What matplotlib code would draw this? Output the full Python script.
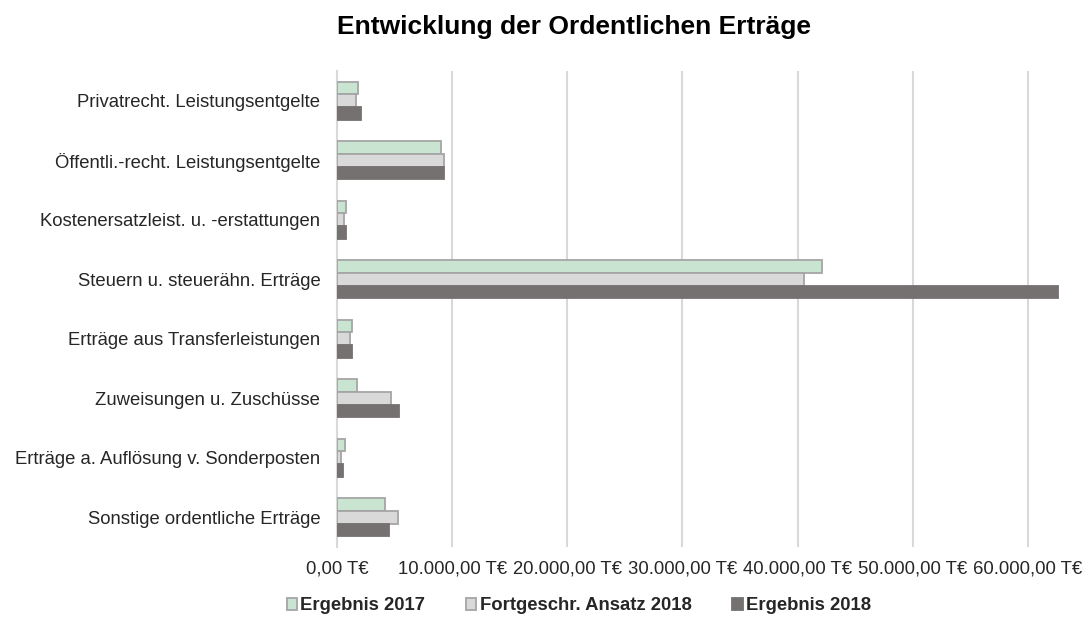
import matplotlib
matplotlib.use("Agg")
import matplotlib.pyplot as plt
import numpy as np
from matplotlib.ticker import FuncFormatter, MultipleLocator

plt.rcParams['font.family'] = ['Liberation Sans', 'DejaVu Sans']

categories = [
    "Privatrecht. Leistungsentgelte",
    "Öffentli.-recht. Leistungsentgelte",
    "Kostenersatzleist. u. -erstattungen",
    "Steuern u. steuerähn. Erträge",
    "Erträge aus Transferleistungen",
    "Zuweisungen u. Zuschüsse",
    "Erträge a. Auflösung v. Sonderposten",
    "Sonstige ordentliche Erträge",
]
ergebnis_2017 = [1790, 9050, 810, 42150, 1330, 1760, 660, 4190]
ansatz_2018 = [1670, 9280, 630, 40560, 1150, 4710, 370, 5340]
ergebnis_2018 = [2080, 9310, 750, 62650, 1330, 5400, 490, 4480]
series_names = ["Ergebnis 2017", "Fortgeschr. Ansatz 2018", "Ergebnis 2018"]

W, H = 1087, 623
fig = plt.figure(figsize=(W / 100, H / 100), dpi=100)
ax = fig.add_axes([337 / W, 1 - 547 / H, (1059 - 337) / W, (547 - 71) / H])

y = np.arange(len(categories))
h = 0.213
ax.barh(y - h, ergebnis_2017, height=h, color="#C9E5D2", edgecolor="#A5A5A5", linewidth=1.3,
        label=series_names[0], zorder=3)
ax.barh(y, ansatz_2018, height=h, color="#D9D9D9", edgecolor="#A5A5A5", linewidth=1.3,
        label=series_names[1], zorder=3)
ax.barh(y + h, ergebnis_2018, height=h, color="#767171", edgecolor="#767171", linewidth=1.3,
        label=series_names[2], zorder=3)

ax.set_ylim(len(categories) - 0.5, -0.5)
ax.set_xlim(0, 62700)
ax.set_yticks(y)
ax.set_yticklabels(categories, fontsize=13.3, color="#262626")


def fmt(v, pos):
    s = f"{v:,.2f}".replace(",", "X").replace(".", ",").replace("X", ".")
    return s + " T€"


ax.xaxis.set_major_locator(MultipleLocator(10000))
ax.xaxis.set_major_formatter(FuncFormatter(fmt))
for lbl in ax.get_xticklabels():
    lbl.set_fontsize(13.3)
    lbl.set_color("#262626")
ax.tick_params(axis='both', length=0)
ax.tick_params(axis='x', pad=10)
ax.tick_params(axis='y', pad=12)
ax.grid(axis='x', color="#D9D9D9", linewidth=1.5, zorder=0)
for s in ["top", "right", "bottom"]:
    ax.spines[s].set_visible(False)
ax.spines["left"].set_color("#D9D9D9")
ax.spines["left"].set_linewidth(1.5)

fig.text(574 / W, 1 - 27 / H, "Entwicklung der Ordentlichen Erträge", ha="center", va="center",
         fontsize=19, fontweight="bold", color="#000000")

leg = fig.legend(loc="center", bbox_to_anchor=(579 / W, 1 - 606 / H), ncol=3, frameon=False,
                 prop={'size': 13.3, 'weight': 'bold'}, handlelength=0.55, handleheight=0.55,
                 handletextpad=0.2, columnspacing=2.2)
for t in leg.get_texts():
    t.set_color("#262626")

fig.savefig("out.png", dpi=100)
